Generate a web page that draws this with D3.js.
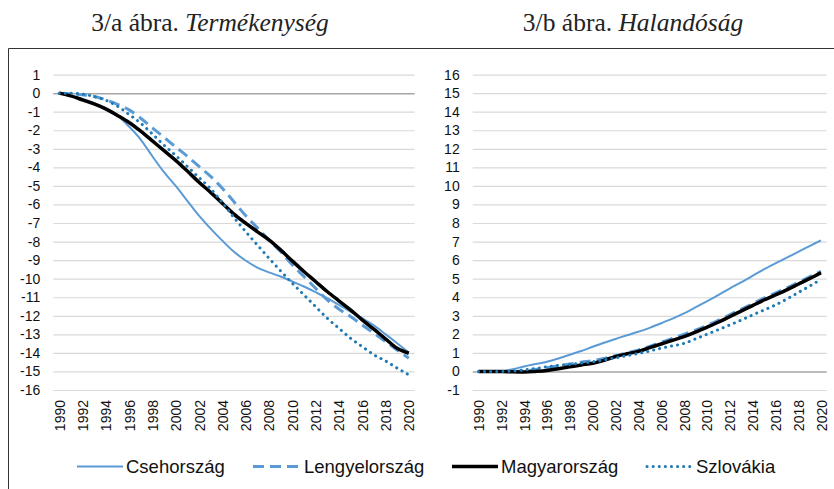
<!DOCTYPE html>
<html>
<head>
<meta charset="utf-8">
<script src="https://cdn.jsdelivr.net/npm/d3@7"></script>
<style>
  body { margin: 0; background: #fff; }
  svg { display: block; }
</style>
</head>
<body>
<svg id="chart" width="834" height="489"></svg>
<script>
// ---- data ----
const YEARS = d3.range(1990, 2021);
const SERIES_NAMES = ["Csehország", "Lengyelország", "Magyarország", "Szlovákia"];

// 3/a Termékenység
const FERT_CZ = [0, -0.14, -0.3, -0.54, -0.81, -1.2, -1.8, -2.5, -3.4, -4.26, -5.0, -5.8, -6.6, -7.3, -7.95, -8.55,
  -9.02, -9.4, -9.66, -9.88, -10.15, -10.42, -10.73, -11.05, -11.41, -11.77, -12.13, -12.52, -12.99, -13.48, -13.98];
const FERT_PL = [0, -0.04, -0.09, -0.18, -0.36, -0.6, -0.9, -1.35, -1.87, -2.38, -2.9, -3.4, -3.95, -4.49, -5.12, -5.85,
  -6.6, -7.25, -7.91, -8.54, -9.25, -9.88, -10.51, -11.14, -11.63, -12.04, -12.49, -12.94, -13.39, -13.84, -14.29];
const FERT_HU = [0, -0.15, -0.36, -0.58, -0.85, -1.2, -1.58, -2.05, -2.57, -3.1, -3.62, -4.2, -4.8, -5.35, -5.93, -6.52,
  -7.01, -7.46, -7.91, -8.45, -9.04, -9.61, -10.15, -10.69, -11.19, -11.68, -12.22, -12.72, -13.24, -13.75, -14.02];
const FERT_SK = [0, 0, -0.05, -0.18, -0.38, -0.7, -1.15, -1.62, -2.2, -2.8, -3.36, -3.95, -4.55, -5.15, -5.9, -6.7,
  -7.46, -8.18, -8.89, -9.58, -10.24, -10.87, -11.5, -12.13, -12.67, -13.21, -13.66, -14.1, -14.43, -14.82, -15.18];

// 3/b Halandóság
const MORT_CZ = [0, 0, 0.02, 0.12, 0.27, 0.4, 0.52, 0.7, 0.9, 1.1, 1.33, 1.55, 1.75, 1.95, 2.14, 2.35,
  2.6, 2.85, 3.13, 3.45, 3.78, 4.12, 4.47, 4.8, 5.15, 5.5, 5.82, 6.13, 6.45, 6.76, 7.07];
const MORT_PL = [0, 0, 0, 0, 0.02, 0.1, 0.2, 0.3, 0.4, 0.5, 0.58, 0.7, 0.85, 1.0, 1.15, 1.35,
  1.57, 1.78, 2.0, 2.22, 2.48, 2.75, 3.05, 3.35, 3.65, 3.95, 4.22, 4.5, 4.8, 5.1, 5.4];
const MORT_HU = [0, 0, 0, -0.02, -0.03, 0, 0.05, 0.15, 0.25, 0.35, 0.44, 0.6, 0.8, 0.95, 1.08, 1.28,
  1.48, 1.68, 1.88, 2.12, 2.38, 2.65, 2.95, 3.25, 3.55, 3.85, 4.12, 4.4, 4.7, 5.0, 5.32];
const MORT_SK = [0, 0, 0, 0.02, 0.08, 0.16, 0.25, 0.32, 0.38, 0.45, 0.52, 0.62, 0.73, 0.85, 0.97, 1.1,
  1.25, 1.38, 1.51, 1.75, 2.0, 2.25, 2.5, 2.77, 3.04, 3.31, 3.58, 3.9, 4.25, 4.6, 4.96];

const FERT_TICKS = d3.range(-16, 2);
const MORT_TICKS = d3.range(-1, 17);

// ---- styles per series (same order as SERIES_NAMES) ----
const STYLES = [
  { color: "#5b9bd5", width: 2,   dash: null,     cap: "butt" },
  { color: "#5b9bd5", width: 3,   dash: "11,6",   cap: "butt" },
  { color: "#000000", width: 3.5, dash: null,     cap: "butt" },
  { color: "#1f7ab5", width: 3,   dash: "0.1,6",  cap: "round" }
];

const svg = d3.select("#chart");

// outer frame (top + left edge visible)
svg.append("path")
  .attr("d", "M8.5,489 V48.5 H834")
  .attr("fill", "none")
  .attr("stroke", "#333")
  .attr("stroke-width", 1);

function drawPanel(opts) {
  const x = d3.scalePoint().domain(YEARS).range([opts.x0, opts.x1]).padding(0.5);
  const y = d3.scaleLinear().domain(d3.extent(opts.ticks)).range([390, 74.6]);
  const g = svg.append("g");

  // title
  const t = svg.append("text")
    .attr("x", opts.titleX).attr("y", 31)
    .attr("text-anchor", "middle")
    .attr("font-family", "'Liberation Serif','Times New Roman',serif")
    .attr("font-size", 25.5)
    .attr("fill", "#222");
  t.append("tspan").text(opts.titleA);
  t.append("tspan").attr("font-style", "italic").text(opts.titleB);

  // y axis with gridlines
  const yAxis = g.append("g")
    .attr("transform", `translate(${opts.x0},0)`)
    .call(d3.axisLeft(y).tickValues(opts.ticks).tickSize(-(opts.x1 - opts.x0)).tickPadding(13)
      .tickFormat(d3.format("d")));
  yAxis.select(".domain").remove();
  yAxis.selectAll(".tick line")
    .attr("stroke", d => d === 0 ? "#a6a6a6" : "#d9d9d9")
    .attr("stroke-width", d => d === 0 ? 1.5 : 1.2);
  yAxis.selectAll(".tick text")
    .attr("font-family", "'Liberation Sans',Arial,sans-serif")
    .attr("font-size", 14)
    .attr("fill", "#111")
    .text(d => d < 0 ? "-" + Math.abs(d) : d);

  // x axis labels, rotated
  const xAxis = g.append("g")
    .attr("transform", "translate(0,390)")
    .call(d3.axisBottom(x).tickValues(YEARS.filter(d => d % 2 === 0)).tickSize(0));
  xAxis.select(".domain").remove();
  xAxis.selectAll(".tick text")
    .attr("font-family", "'Liberation Sans',Arial,sans-serif")
    .attr("font-size", 14)
    .attr("fill", "#111")
    .attr("transform", "rotate(-90)")
    .attr("text-anchor", "end")
    .attr("x", -10)
    .attr("y", 0)
    .attr("dy", "0.36em");

  // lines
  const line = d3.line()
    .x((d, i) => x(YEARS[i]))
    .y(d => y(d))
    .curve(d3.curveMonotoneX);

  opts.series.forEach((vals, k) => {
    const s = STYLES[k];
    g.append("path")
      .datum(vals)
      .attr("d", line)
      .attr("fill", "none")
      .attr("stroke", s.color)
      .attr("stroke-width", s.width)
      .attr("stroke-dasharray", s.dash)
      .attr("stroke-linecap", s.cap)
      .attr("stroke-linejoin", "round");
  });
}

drawPanel({
  x0: 53.3, x1: 414.6, ticks: FERT_TICKS, titleX: 210,
  titleA: "3/a ábra. ", titleB: "Termékenység",
  series: [FERT_CZ, FERT_PL, FERT_HU, FERT_SK]
});
drawPanel({
  x0: 472.7, x1: 826.7, ticks: MORT_TICKS, titleX: 633,
  titleA: "3/b ábra. ", titleB: "Halandóság",
  series: [MORT_CZ, MORT_PL, MORT_HU, MORT_SK]
});

// legend
const LEGEND_X = [77, 253, 452, 647];
const legend = svg.append("g");
SERIES_NAMES.forEach((name, k) => {
  const s = STYLES[k];
  const lx = LEGEND_X[k];
  legend.append("line")
    .attr("x1", lx).attr("x2", lx + 46)
    .attr("y1", 466.5).attr("y2", 466.5)
    .attr("stroke", s.color)
    .attr("stroke-width", s.width)
    .attr("stroke-dasharray", s.dash)
    .attr("stroke-linecap", s.cap);
  legend.append("text")
    .attr("x", lx + (k === 1 ? 51 : 49))
    .attr("y", 473)
    .attr("font-family", "'Liberation Sans',Arial,sans-serif")
    .attr("font-size", 18.5)
    .attr("fill", "#111")
    .text(name);
});
</script>
</body>
</html>
